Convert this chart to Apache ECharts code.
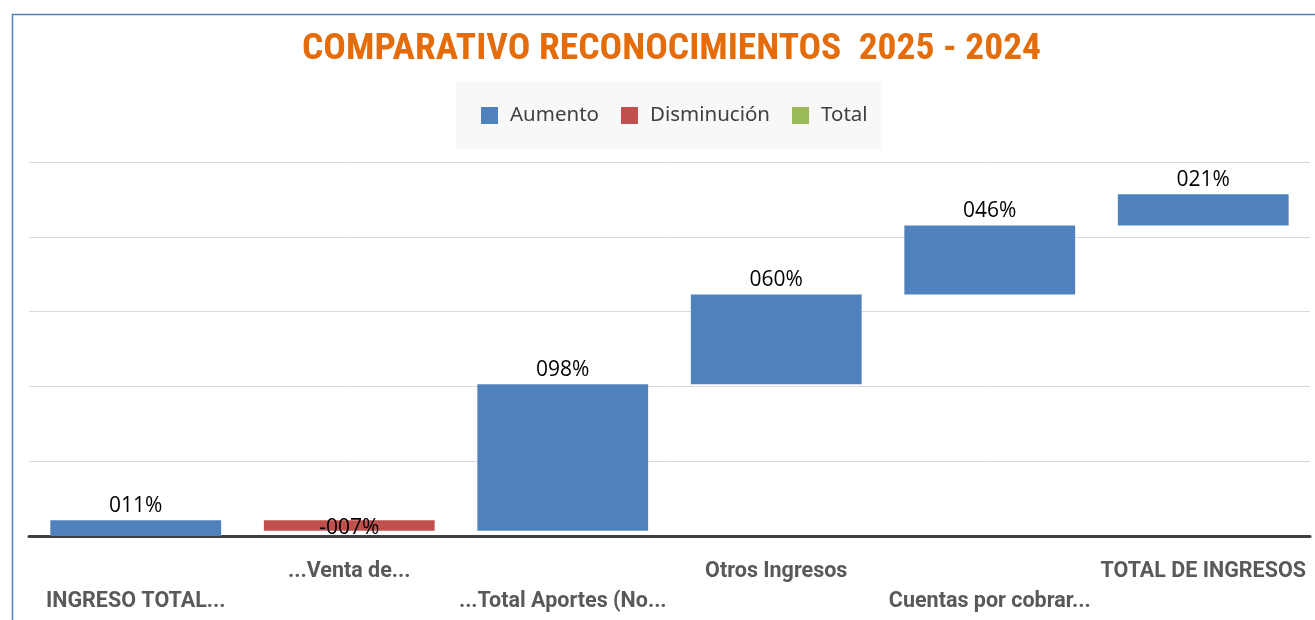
<!DOCTYPE html>
<html><head><meta charset="utf-8">
<script src="https://cdn.jsdelivr.net/npm/echarts@6/dist/echarts.min.js"></script>
<style>html,body{margin:0;padding:0;background:#fff}#c{width:1315px;height:620px}</style>
</head><body><div id="c"></div>
<script>
const categories = ["INGRESO TOTAL...", "...Venta de...", "...Total Aportes (No...", "Otros Ingresos", "Cuentas por cobrar...", "TOTAL DE INGRESOS"];
const changes = [0.105, -0.07, 0.98, 0.60, 0.46, 0.21];
const legendNames = ["Aumento", "Disminución", "Total"];
const yTicks = [0, 0.5, 1, 1.5, 2, 2.5];

const base = [], inc = [], dec = [];
let run = 0;
changes.forEach(v => {
  if (v >= 0) { base.push(run); inc.push(v); dec.push('-'); run += v; }
  else { run += v; base.push(run); inc.push('-'); dec.push(-v); }
});
function fmt(v) {
  const n = Math.round(Math.abs(v) * 100);
  return (v < 0 ? '-' : '') + String(n).padStart(3, '0') + '%';
}
const chart = echarts.init(document.getElementById('c'));
chart.setOption({
  animation: false,
  backgroundColor: '#fff',
  graphic: [{ type: 'rect', left: 10, top: 12, shape: { width: 1330, height: 640 }, style: { fill: 'none', stroke: '#4F81BD', lineWidth: 1.5 }, z: -1 }],
  title: {
    text: 'COMPARATIVO RECONOCIMIENTOS  2025 - 2024',
    left: 297, top: 26,
    textStyle: { color: '#E46C0A', fontSize: 37.5, fontWeight: 'bold', fontFamily: '"Liberation Sans Narrow", "Roboto Condensed", Roboto, sans-serif' }
  },
  legend: {
    data: legendNames, top: 82, left: 456,
    backgroundColor: '#F8F8F8',
    padding: [23, 14, 23, 25],
    itemWidth: 17, itemHeight: 17, itemGap: 22, icon: 'rect',
    textStyle: { color: '#404040', fontSize: 20.5, padding: [0, 0, 0, 7], fontFamily: '"Liberation Sans Narrow", "Noto Sans", sans-serif' }
  },
  grid: { left: 29, right: 5, top: 162, bottom: 84 },
  xAxis: {
    type: 'category', data: categories,
    axisTick: { show: false },
    axisLine: { lineStyle: { color: '#404040', width: 3 } },
    axisLabel: {
      interval: 0, margin: 21, hideOverlap: false,
      color: '#595959', fontSize: 21.5, fontWeight: 'bold', lineHeight: 30,
      fontFamily: 'Roboto, sans-serif',
      formatter: (v, i) => (i % 2 === 0 ? '\n' + v : v)
    }
  },
  yAxis: {
    type: 'value', min: 0, max: 2.5, interval: 0.5,
    axisLabel: { show: false }, axisLine: { show: false }, axisTick: { show: false },
    splitLine: { lineStyle: { color: '#D9D9D9', width: 1 } }
  },
  series: [
    { name: 'base', type: 'bar', stack: 'w', data: base, barWidth: '80%', itemStyle: { color: 'transparent' }, silent: true },
    { name: 'Aumento', type: 'bar', stack: 'w', data: inc, itemStyle: { color: '#4F81BD' },
      label: { show: true, position: 'top', distance: 4, color: '#000', fontSize: 21, fontFamily: '"Open Sans", sans-serif', formatter: p => fmt(changes[p.dataIndex]) } },
    { name: 'Disminución', type: 'bar', stack: 'w', data: dec, itemStyle: { color: '#C0504D' },
      label: { show: true, position: 'inside', color: '#000', fontSize: 21, offset: [0, 2], fontFamily: '"Open Sans", sans-serif', formatter: p => fmt(changes[p.dataIndex]) } },
    { name: 'Total', type: 'bar', stack: 'w', data: [], itemStyle: { color: '#9BBB59' } }
  ]
});
</script></body></html>
